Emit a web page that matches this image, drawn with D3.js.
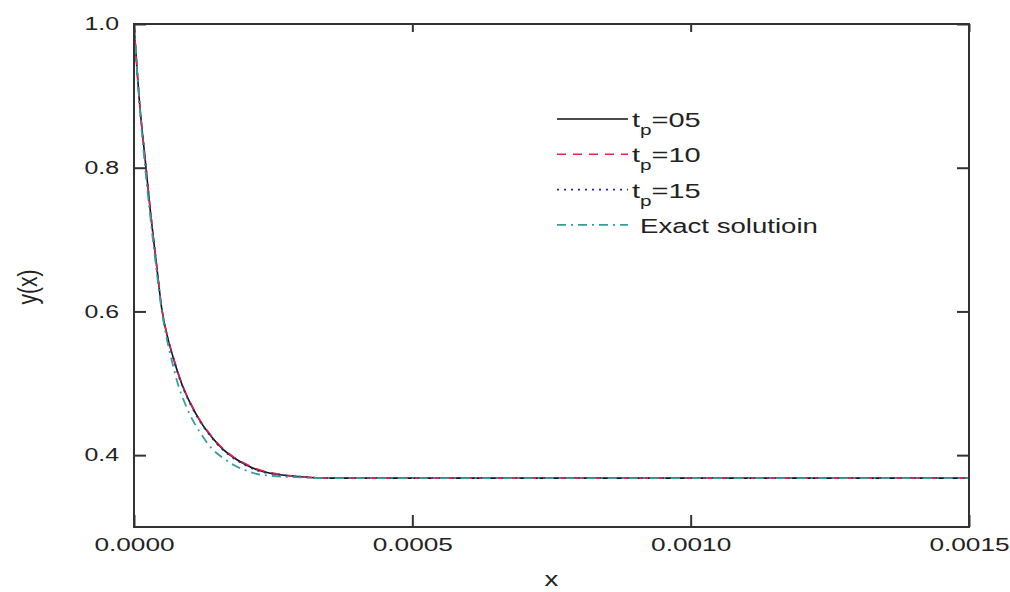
<!DOCTYPE html>
<html>
<head>
<meta charset="utf-8">
<script src="https://cdn.jsdelivr.net/npm/d3@7"></script>
<style>
  body { margin: 0; background: #fff; }
  svg text { font-family: "Liberation Sans", Arial, sans-serif; fill: #222; }
</style>
</head>
<body>
<svg id="chart" width="1010" height="592"></svg>
<script>
// x sample positions
const xs = [0, 1e-5, 2e-5, 3e-5, 4e-5, 5e-5, 6e-5, 7e-5, 8e-5, 9e-5, 1e-4,
    1.2e-4, 1.4e-4, 1.6e-4, 1.8e-4, 2e-4, 2.2e-4, 2.5e-4, 3e-4, 3.5e-4, 4e-4, 5e-4, 1.5e-3];

// series values
const tp05 = [1.000, 0.890, 0.812, 0.735, 0.668, 0.603, 0.565, 0.537, 0.512, 0.491, 0.474,
    0.446, 0.425, 0.408, 0.396, 0.387, 0.380, 0.374, 0.370, 0.368, 0.368, 0.368, 0.368];
const tp10 = [1.000, 0.890, 0.812, 0.736, 0.669, 0.604, 0.566, 0.538, 0.513, 0.492, 0.475,
    0.447, 0.426, 0.409, 0.397, 0.388, 0.381, 0.375, 0.370, 0.368, 0.368, 0.368, 0.368];
const tp15 = [1.000, 0.889, 0.811, 0.734, 0.667, 0.602, 0.564, 0.536, 0.511, 0.490, 0.473,
    0.445, 0.424, 0.407, 0.395, 0.386, 0.379, 0.374, 0.370, 0.368, 0.368, 0.368, 0.368];
const exact = [1.000, 0.888, 0.800, 0.727, 0.660, 0.600, 0.558, 0.525, 0.496, 0.475, 0.457,
    0.430, 0.409, 0.396, 0.386, 0.379, 0.374, 0.371, 0.369, 0.368, 0.368, 0.368, 0.368];

const xTicks = [0, 0.0005, 0.001, 0.0015];
const yTicks = [0.4, 0.6, 0.8, 1.0];

const series = [
    { name: "05", values: tp05, color: "#111", dash: null, width: 1.6 },
    { name: "10", values: tp10, color: "#e4264a", dash: "9,7", width: 1.6 },
    { name: "15", values: tp15, color: "#2a2a9a", dash: "2,5", width: 1.8 },
    { name: "Exact solutioin", values: exact, color: "#3a9e98", dash: "9,5,2,5", width: 1.8 }
];

const svg = d3.select("#chart");
const margin = { top: 24, right: 41, bottom: 65, left: 134 };
const width = 1010, height = 592;
const stretch = 1.38; // glyphs in the original are wide

const x = d3.scaleLinear()
    .domain([0, 0.0015])
    .range([margin.left, width - margin.right]);

const y = d3.scaleLinear()
    .domain([0.3, 1.0])
    .range([height - margin.bottom, margin.top]);

// Curves
const line = d3.line()
    .x((d, i) => x(xs[i]))
    .y(d => y(d))
    .curve(d3.curveMonotoneX);

series.forEach(s => {
    svg.append("path")
        .datum(s.values)
        .attr("fill", "none")
        .attr("stroke", s.color)
        .attr("stroke-width", s.width)
        .attr("stroke-dasharray", s.dash)
        .attr("d", line);
});

// Axes: ticks pointing inward, labels only on bottom and left
const fmtX = d3.format(".4f");
const fmtY = d3.format(".1f");

const bottomAxis = svg.append("g")
    .attr("transform", `translate(0,${height - margin.bottom})`)
    .call(d3.axisBottom(x).tickValues(xTicks).tickFormat(fmtX).tickSizeInner(-12).tickSizeOuter(0).tickPadding(11));

const leftAxis = svg.append("g")
    .attr("transform", `translate(${margin.left},0)`)
    .call(d3.axisLeft(y).tickValues(yTicks).tickFormat(fmtY).tickSizeInner(-12).tickSizeOuter(0));

svg.append("g")
    .attr("transform", `translate(0,${margin.top})`)
    .call(d3.axisTop(x).tickValues(xTicks).tickFormat("").tickSizeInner(-8).tickSizeOuter(0));

svg.append("g")
    .attr("transform", `translate(${width - margin.right},0)`)
    .call(d3.axisRight(y).tickValues(yTicks).tickFormat("").tickSizeInner(-12).tickSizeOuter(0));

svg.selectAll(".domain").remove();
svg.selectAll(".tick line").attr("stroke", "#333").attr("stroke-width", 2);
svg.selectAll(".tick text").attr("font-size", 19).style("fill", "#222")
    .attr("transform", `scale(${stretch},1)`);
leftAxis.selectAll(".tick text").attr("font-size", 18).attr("x", -15 / stretch);

// Frame
svg.append("rect")
    .attr("x", margin.left)
    .attr("y", margin.top)
    .attr("width", width - margin.left - margin.right)
    .attr("height", height - margin.top - margin.bottom)
    .attr("fill", "none")
    .attr("stroke", "#333")
    .attr("stroke-width", 2);

// Axis titles
svg.append("text")
    .attr("transform", `translate(${x(0.00075)},586) scale(${stretch},1)`)
    .attr("text-anchor", "middle")
    .attr("font-size", 20)
    .text("x");

svg.append("text")
    .attr("transform", "translate(37,287) rotate(-90) scale(1,1.3)")
    .attr("text-anchor", "middle")
    .attr("font-size", 21)
    .text("y(x)");

// Legend
const legend = svg.append("g").attr("transform", "translate(557,119)");
series.forEach((s, i) => {
    const g = legend.append("g").attr("transform", `translate(0,${i * 35.3})`);
    g.append("line")
        .attr("x1", 0).attr("x2", 71)
        .attr("stroke", s.color)
        .attr("stroke-width", s.width)
        .attr("stroke-dasharray", s.dash);
    const t = g.append("text")
        .attr("transform", `translate(${i < 3 ? 75 : 83},8) scale(${stretch},1)`)
        .attr("font-size", 21);
    if (i < 3) {
        t.append("tspan").text("t");
        t.append("tspan").attr("font-size", 15).attr("dy", 8).text("p");
        t.append("tspan").attr("dy", -8).text("=" + s.name);
    } else {
        t.attr("font-size", 20).text(s.name);
    }
});
</script>
</body>
</html>
